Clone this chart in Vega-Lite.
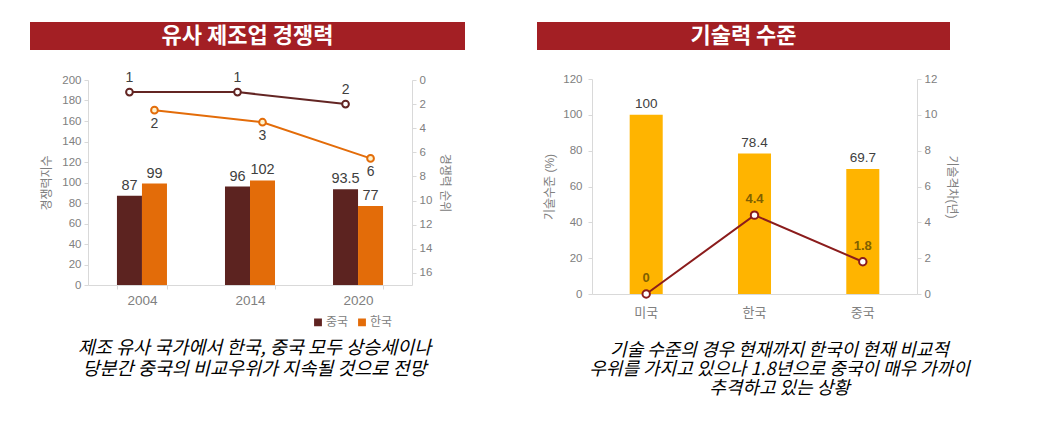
{
  "$schema": "https://vega.github.io/schema/vega-lite/v6.json",
  "padding": {"left": 30, "top": 22, "right": 5, "bottom": 5},
  "background": "white",
  "config": {
    "font": "'Liberation Sans', 'Noto Sans CJK KR'",
    "view": {"stroke": null},
    "axis": {
      "grid": false,
      "labelColor": "#808080",
      "labelFontSize": 11.5,
      "titleColor": "#808080",
      "titleFontSize": 12,
      "titleFontWeight": "normal",
      "domainColor": "#d9d9d9",
      "tickColor": "#d9d9d9",
      "tickSize": 4,
      "labelPadding": 3,
      "labelOverlap": false
    }
  },
  "hconcat": [
    {
      "vconcat": [
        {
          "width": 435, "height": 28,
          "view": {"fill": "#A31F24", "stroke": null},
          "data": {"values": [{"t": "유사 제조업 경쟁력"}]},
          "mark": {"type": "text", "color": "white", "fontSize": 22, "fontWeight": "bold", "font": "Noto Sans CJK KR"},
          "encoding": {"text": {"field": "t", "type": "nominal"}}
        },
        {
          "width": 435, "height": 205,
          "data": {"values": [
            {"year": "2004", "country": "중국", "score": 87, "rank": 1, "rank_label": "1"},
            {"year": "2004", "country": "한국", "score": 99, "rank": 2.5, "rank_label": "2"},
            {"year": "2014", "country": "중국", "score": 96, "rank": 1, "rank_label": "1"},
            {"year": "2014", "country": "한국", "score": 102, "rank": 3.5, "rank_label": "3"},
            {"year": "2020", "country": "중국", "score": 93.5, "rank": 2, "rank_label": "2"},
            {"year": "2020", "country": "한국", "score": 77, "rank": 6.5, "rank_label": "6"}
          ]},
          "encoding": {
            "x": {"field": "year", "type": "nominal",
                  "scale": {"range": [58, 382], "paddingInner": 0.537, "paddingOuter": 0.268},
                  "axis": {"title": null, "labelAngle": 0, "tickBand": "extent", "labelFontSize": 13.5, "labelPadding": 4}},
            "xOffset": {"field": "country", "type": "nominal", "sort": ["중국", "한국"],
                        "scale": {"paddingInner": 0, "paddingOuter": 0}}
          },
          "layer": [
            {
              "encoding": {
                "y": {"field": "score", "type": "quantitative", "scale": {"domain": [0, 200]},
                      "axis": {"title": "경쟁력지수", "offset": -58, "values": [0, 20, 40, 60, 80, 100, 120, 140, 160, 180, 200], "titlePadding": 8}}
              },
              "layer": [
                {
                  "mark": {"type": "bar"},
                  "encoding": {
                    "color": {"field": "country", "type": "nominal",
                              "scale": {"domain": ["중국", "한국"], "range": ["#5C2320", "#E36C09"]},
                              "legend": {"title": null, "orient": "none", "legendX": 282, "legendY": 294, "direction": "horizontal",
                                         "symbolType": "square", "symbolSize": 40, "labelColor": "#808080", "labelFontSize": 12,
                                         "columnPadding": 6, "labelOffset": 2}}
                  }
                },
                {
                  "mark": {"type": "text", "baseline": "bottom", "dy": -3, "fontSize": 14.5, "color": "#404040"},
                  "encoding": {"text": {"field": "score", "type": "quantitative"}}
                }
              ]
            },
            {
              "encoding": {
                "y": {"field": "rank", "type": "quantitative", "scale": {"domain": [0, 17], "reverse": true},
                      "axis": {"title": "경쟁력 순위", "orient": "right", "offset": -53, "values": [0, 2, 4, 6, 8, 10, 12, 14, 16], "titlePadding": 6}}
              },
              "layer": [
                {
                  "mark": {"type": "line", "strokeWidth": 2},
                  "encoding": {
                    "stroke": {"field": "country", "type": "nominal",
                               "scale": {"domain": ["중국", "한국"], "range": ["#632523", "#E36C09"]}, "legend": null}
                  }
                },
                {
                  "mark": {"type": "point", "filled": true, "size": 45, "strokeWidth": 2, "opacity": 1},
                  "encoding": {
                    "stroke": {"field": "country", "type": "nominal",
                               "scale": {"domain": ["중국", "한국"], "range": ["#632523", "#E36C09"]}, "legend": null},
                    "fill": {"field": "country", "type": "nominal",
                             "scale": {"domain": ["중국", "한국"], "range": ["#FFFFFF", "#FFF2CC"]}, "legend": null}
                  }
                },
                {
                  "transform": [{"filter": "datum.country === '중국'"}],
                  "mark": {"type": "text", "dy": -14, "fontSize": 14, "color": "#404040"},
                  "encoding": {"text": {"field": "rank_label", "type": "nominal"}}
                },
                {
                  "transform": [{"filter": "datum.country === '한국'"}],
                  "mark": {"type": "text", "dy": 14, "fontSize": 14, "color": "#404040"},
                  "encoding": {"text": {"field": "rank_label", "type": "nominal"}}
                }
              ]
            }
          ],
          "resolve": {"scale": {"y": "independent"}}
        },
        {
          "width": 435, "height": 39,
          "data": {"values": [{"t": "제조 유사 국가에서 한국, 중국 모두 상승세이나\n당분간 중국의 비교우위가 지속될 것으로 전망"}]},
          "mark": {"type": "text", "fontSize": 18.5, "fontStyle": "italic", "color": "black", "lineBreak": "\n", "lineHeight": 21, "dx": 7, "font": "Noto Sans CJK KR"},
          "encoding": {"text": {"field": "t", "type": "nominal"}}
        }
      ],
      "spacing": 21
    },
    {
      "vconcat": [
        {
          "width": 413, "height": 28,
          "view": {"fill": "#A31F24", "stroke": null},
          "data": {"values": [{"t": "기술력 수준"}]},
          "mark": {"type": "text", "color": "white", "fontSize": 22, "fontWeight": "bold", "font": "Noto Sans CJK KR"},
          "encoding": {"text": {"field": "t", "type": "nominal"}}
        },
        {
          "width": 413, "height": 215,
          "data": {"values": [
            {"country": "미국", "level": 100, "gap": 0, "gap_label": "0"},
            {"country": "한국", "level": 78.4, "gap": 4.4, "gap_label": "4.4"},
            {"country": "중국", "level": 69.7, "gap": 1.8, "gap_label": "1.8"}
          ]},
          "encoding": {
            "x": {"field": "country", "type": "nominal", "sort": ["미국", "한국", "중국"],
                  "scale": {"range": [55, 380], "paddingInner": 0.695, "paddingOuter": 0.348},
                  "axis": {"title": null, "labelAngle": 0, "ticks": false, "labelFontSize": 13, "labelPadding": 12}}
          },
          "layer": [
            {
              "encoding": {
                "y": {"field": "level", "type": "quantitative", "scale": {"domain": [0, 120]},
                      "axis": {"title": "기술수준 (%)", "offset": -55, "values": [0, 20, 40, 60, 80, 100, 120], "titlePadding": 6, "labelPadding": 6}}
              },
              "layer": [
                {"mark": {"type": "bar", "color": "#FFB400"}},
                {
                  "mark": {"type": "text", "baseline": "bottom", "dy": -4, "fontSize": 13.5, "color": "#404040"},
                  "encoding": {"text": {"field": "level", "type": "quantitative"}}
                }
              ]
            },
            {
              "encoding": {
                "y": {"field": "gap", "type": "quantitative", "scale": {"domain": [0, 12]},
                      "axis": {"title": "기술격차(년)", "orient": "right", "offset": -33, "values": [0, 2, 4, 6, 8, 10, 12], "titlePadding": 8}}
              },
              "layer": [
                {"mark": {"type": "line", "strokeWidth": 2, "color": "#8B1C1C"}},
                {"mark": {"type": "point", "filled": true, "size": 55, "strokeWidth": 2, "opacity": 1, "fill": "white", "stroke": "#8B1C1C"}},
                {
                  "mark": {"type": "text", "dy": -16, "fontSize": 13, "fontWeight": "bold", "color": "#7F6000"},
                  "encoding": {"text": {"field": "gap_label", "type": "nominal"}}
                }
              ]
            }
          ],
          "resolve": {"scale": {"y": "independent"}}
        },
        {
          "width": 413, "height": 12,
          "data": {"values": [{"t": "기술 수준의 경우 현재까지 한국이 현재 비교적\n우위를 가지고 있으나 1.8년으로 중국이 매우 가까이\n추격하고 있는 상황"}]},
          "mark": {"type": "text", "fontSize": 18, "fontStyle": "italic", "color": "black", "lineBreak": "\n", "lineHeight": 19, "dx": 36, "font": "Noto Sans CJK KR"},
          "encoding": {"text": {"field": "t", "type": "nominal"}}
        }
      ],
      "spacing": 23
    }
  ],
  "spacing": 72
}
